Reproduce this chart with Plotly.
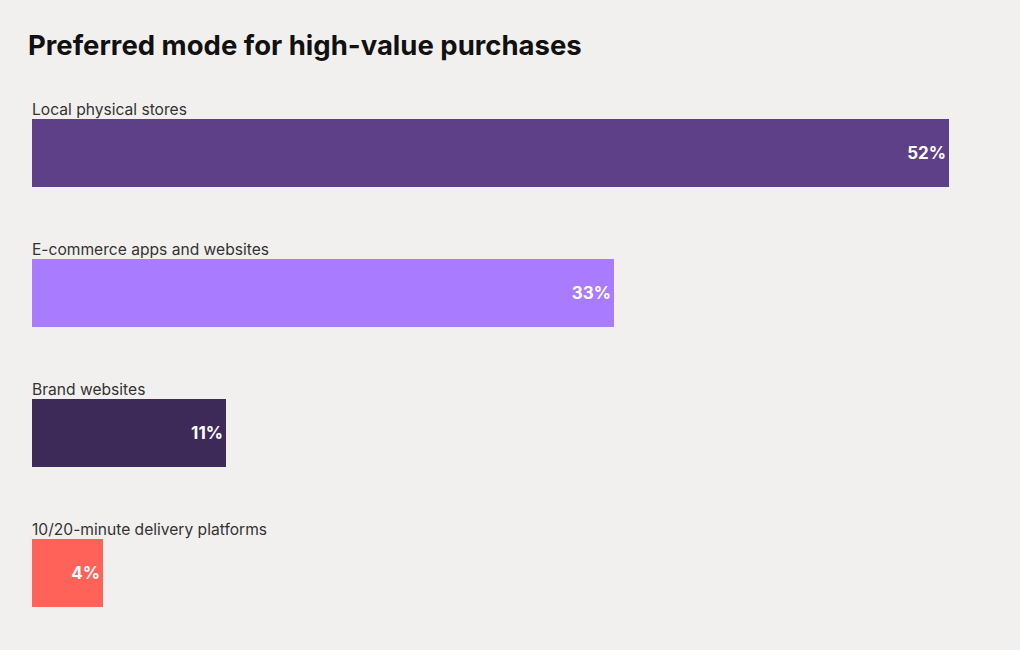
import plotly.graph_objects as go

categories = ["Local physical stores", "E-commerce apps and websites", "Brand websites", "10/20-minute delivery platforms"]
values = [52, 33, 11, 4]
colors = ["#5E4089", "#A87BFF", "#3D2A58", "#FF6259"]

ypos = list(range(len(categories)))
BAR_W = 0.479

fig = go.Figure()
fig.add_trace(go.Bar(
    x=values, y=ypos, orientation="h", width=BAR_W,
    marker=dict(color=colors, line=dict(width=0)),
    text=[f"{v}%" for v in values], textposition="inside", insidetextanchor="end",
    textfont=dict(family="Inter, Lato, sans-serif", size=17, color="white", weight="bold"),
    cliponaxis=False, hoverinfo="skip",
))

for i, c in enumerate(categories):
    fig.add_annotation(x=0, y=i - BAR_W / 2, xref="x", yref="y", text=c, showarrow=False,
                       xanchor="left", yanchor="bottom", xshift=-2, yshift=-2,
                       font=dict(family="Inter, Lato, sans-serif", size=15.6, color="#333333"))

fig.update_layout(
    width=1020, height=650,
    paper_bgcolor="#F2F0EE", plot_bgcolor="#F2F0EE",
    margin=dict(l=32, r=0, t=83, b=7),
    title=dict(text="<b>Preferred mode for high-value purchases</b>", x=28 / 1020, xanchor="left",
               y=1 - 45 / 650, yanchor="middle",
               font=dict(family="Inter, Lato, sans-serif", size=27.5, color="#111111")),
    xaxis=dict(range=[0, 56.03], visible=False, fixedrange=True),
    yaxis=dict(range=[3.5, -0.5], visible=False, fixedrange=True),
    showlegend=False, bargap=0,
)
fig.write_html("out.html", config={"displayModeBar": False},
               post_script="document.body.style.margin='0';document.body.style.background='#F2F0EE';")
